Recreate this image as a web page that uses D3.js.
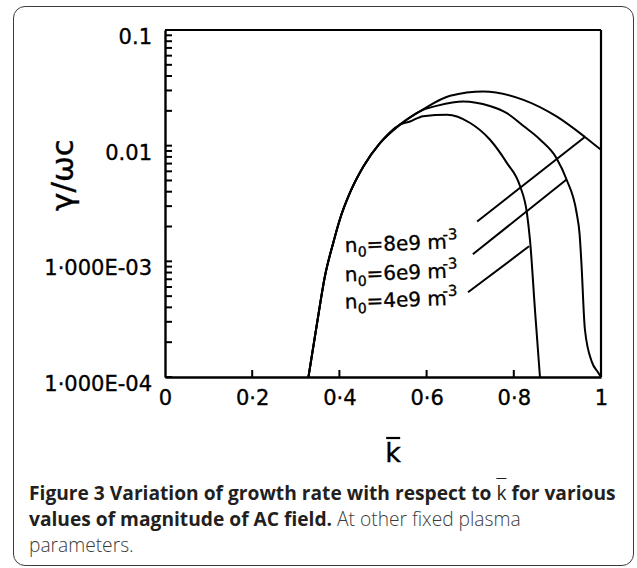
<!DOCTYPE html>
<html lang="en">
<head>
<meta charset="UTF-8">
<title>Figure 3 growth rate</title>
<script src="https://d3js.org/d3.v7.min.js"></script>
<style>
  body { margin: 0; background: #fff; }
  #box {
    position: absolute; left: 13px; top: 6px; width: 621px; height: 560px;
    box-sizing: border-box; border: 1.5px solid #3c3c3c; border-radius: 12px;
  }
  #chart { position: absolute; left: 0; top: 0; }
  #caption {
    position: absolute; left: 29px; top: 480px;
    font-family: "Open Sans", sans-serif; font-size: 19.2px; line-height: 25.8px;
    color: #231f20; white-space: nowrap;
  }
  #caption b { font-weight: 700; }
  #caption .plain { color: #3a3a3a; font-weight: 300; }
  #caption .kbar { text-decoration: overline; font-weight: 400; }
  .plot text { font-family: "DejaVu Sans", sans-serif; fill: #000; stroke: #000; stroke-width: 0.35px; }
</style>
</head>
<body>
<div id="box"></div>
<svg id="chart" width="637" height="568"></svg>
<div id="caption">
  <b>Figure 3 Variation of growth rate with respect to <span class="kbar">k</span> for various</b><br>
  <b>values of magnitude of AC field.</b><span class="plain"> At other fixed plasma</span><br>
  <span class="plain">parameters.</span>
</div>

<script>
  // values (k bar, gamma / omega_c)
  const k8 = [0.329, 0.348, 0.367, 0.386, 0.401, 0.424, 0.455, 0.493, 0.539, 0.592, 0.654, 0.730, 0.822, 0.898, 0.963, 1.0];
  const g8 = [1.0e-4, 2.8e-4, 7.5e-4, 1.45e-3, 2.3e-3, 3.9e-3, 6.6e-3, 1.05e-2, 1.52e-2, 2.06e-2, 2.7e-2, 2.94e-2, 2.49e-2, 1.79e-2, 1.19e-2, 9.2e-3];

  const k6 = [0.329, 0.348, 0.367, 0.386, 0.401, 0.424, 0.455, 0.493, 0.539, 0.592, 0.625, 0.684, 0.745, 0.784, 0.82, 0.86, 0.898, 0.921, 0.944, 0.951, 0.955, 0.963, 0.979, 0.993, 1.0];
  const g6 = [1.0e-4, 2.8e-4, 7.5e-4, 1.45e-3, 2.3e-3, 3.9e-3, 6.6e-3, 1.05e-2, 1.52e-2, 2.04e-2, 2.22e-2, 2.41e-2, 2.2e-2, 1.91e-2, 1.5e-2, 1.13e-2, 7.8e-3, 5.1e-3, 2.63e-3, 1.7e-3, 9.8e-4, 2.6e-4, 1.35e-4, 1.1e-4, 1.0e-4];

  const k4 = [0.329, 0.348, 0.367, 0.386, 0.401, 0.424, 0.455, 0.493, 0.539, 0.562, 0.592, 0.647, 0.70, 0.745, 0.784, 0.814, 0.83, 0.837, 0.849, 0.86];
  const g4 = [1.0e-4, 2.8e-4, 7.5e-4, 1.45e-3, 2.3e-3, 3.9e-3, 6.6e-3, 1.05e-2, 1.52e-2, 1.62e-2, 1.8e-2, 1.85e-2, 1.57e-2, 1.13e-2, 7.1e-3, 4.5e-3, 2.63e-3, 1.55e-3, 3.6e-4, 1.0e-4];

  const seriesNames = ["8e9", "6e9", "4e9"];

  // label anchors and leader lines, in data units
  const labelK = [0.413, 0.413, 0.413];
  const labelG = [1.2e-3, 6.7e-4, 3.9e-4];
  const leaderFrom = [[0.716, 2.21e-3], [0.706, 1.15e-3], [0.695, 5.4e-4]];
  const leaderTo = [[0.963, 1.19e-2], [0.921, 5.1e-3], [0.835, 1.35e-3]];

  const xTicks = [0, 0.2, 0.4, 0.6, 0.8, 1];
  const xTickLabels = ["0", "0·2", "0·4", "0·6", "0·8", "1"];
  const yDecades = [1e-4, 1e-3, 1e-2, 1e-1];
  const yTickLabels = ["1·000E-04", "1·000E-03", "0.01", "0.1"];

  const svg = d3.select("#chart");
  const g = svg.append("g").attr("class", "plot");

  const x = d3.scaleLinear().domain([0, 1]).range([165, 601]);
  const y = d3.scaleLog().domain([1e-4, 0.1]).range([377, 30]);

  // all log ticks 1..9 per decade
  let yAll = [];
  yDecades.forEach(function (d) {
    if (d >= 0.1) { yAll.push(d); return; }
    for (let m = 1; m <= 9; m++) yAll.push(+(d * m).toPrecision(3));
  });

  const yAxis = d3.axisLeft(y)
    .tickValues(yDecades)
    .tickSize(0)
    .tickPadding(13)
    .tickFormat((d, i) => yTickLabels[i]);

  const yg = g.append("g").attr("transform", "translate(" + x(0) + ",0)").call(yAxis);
  yg.selectAll("text").attr("font-size", 21).attr("font-family", "DejaVu Sans").attr("dy", "0.65em");

  const xAxis = d3.axisBottom(x)
    .tickValues(xTicks)
    .tickSize(0)
    .tickPadding(13)
    .tickFormat((d, i) => xTickLabels[i]);

  const xg = g.append("g").attr("transform", "translate(0," + y(1e-4) + ")").call(xAxis);
  xg.selectAll("text").attr("font-size", 21).attr("font-family", "DejaVu Sans");

  [yg, xg].forEach(function (a) {
    a.select(".domain").attr("stroke", "#000").attr("stroke-width", 2.4);
  });

  // inward tick marks, drawn after the axes
  const tickG = svg.append("g");
  tickG.selectAll("line.yt")
    .data(yAll)
    .join("line")
    .attr("class", "yt")
    .attr("x1", x(0)).attr("x2", x(0) + 7)
    .attr("y1", d => y(d)).attr("y2", d => y(d))
    .attr("stroke", "#000").attr("stroke-width", 2);

  tickG.selectAll("line.xt")
    .data(xTicks.slice(1, -1))
    .join("line")
    .attr("class", "xt")
    .attr("x1", d => x(d)).attr("x2", d => x(d))
    .attr("y1", y(1e-4)).attr("y2", y(1e-4) - 7)
    .attr("stroke", "#000").attr("stroke-width", 2);

  // top and right frame
  g.append("line").attr("x1", x(0)).attr("x2", x(1)).attr("y1", y(0.1)).attr("y2", y(0.1))
    .attr("stroke", "#000").attr("stroke-width", 2.2);
  g.append("line").attr("x1", x(1)).attr("x2", x(1)).attr("y1", y(0.1)).attr("y2", y(1e-4))
    .attr("stroke", "#000").attr("stroke-width", 2.2);

  const line = d3.line()
    .x(d => x(d[0]))
    .y(d => y(d[1]))
    .curve(d3.curveMonotoneX);

  const curves = [d3.zip(k8, g8), d3.zip(k6, g6), d3.zip(k4, g4)];
  g.append("g").selectAll("path")
    .data(curves)
    .join("path")
    .attr("d", line)
    .attr("fill", "none")
    .attr("stroke", "#000")
    .attr("stroke-width", 2)
    .attr("stroke-linejoin", "round");

  g.append("g").selectAll("line")
    .data(d3.zip(leaderFrom, leaderTo))
    .join("line")
    .attr("x1", d => x(d[0][0])).attr("y1", d => y(d[0][1]))
    .attr("x2", d => x(d[1][0])).attr("y2", d => y(d[1][1]))
    .attr("stroke", "#000").attr("stroke-width", 2);

  const lab = g.append("g").selectAll("text")
    .data(seriesNames)
    .join("text")
    .attr("transform", (d, i) => "translate(" + x(labelK[i]) + "," + y(labelG[i]) + ") rotate(-2)")
    .attr("font-size", 20);
  lab.append("tspan").text("n");
  lab.append("tspan").attr("font-size", 14).attr("dy", 5).text("0");
  lab.append("tspan").attr("dy", -5).text(d => "=" + d + " m");
  lab.append("tspan").attr("font-size", 15).attr("dy", -9).attr("dx", -4).text("-3");

  // axis titles
  g.append("text")
    .attr("transform", "translate(73,175) rotate(-90)")
    .attr("text-anchor", "middle")
    .attr("font-size", 31)
    .text("γ/ωc");

  const kt = g.append("text")
    .attr("x", 393).attr("y", 462)
    .attr("text-anchor", "middle")
    .attr("font-size", 27)
    .text("k");
  const bb = kt.node().getBBox();
  g.append("line")
    .attr("x1", bb.x + 1).attr("x2", bb.x + bb.width - 1)
    .attr("y1", 438).attr("y2", 438)
    .attr("stroke", "#000").attr("stroke-width", 2.2);
</script>
</body>
</html>
